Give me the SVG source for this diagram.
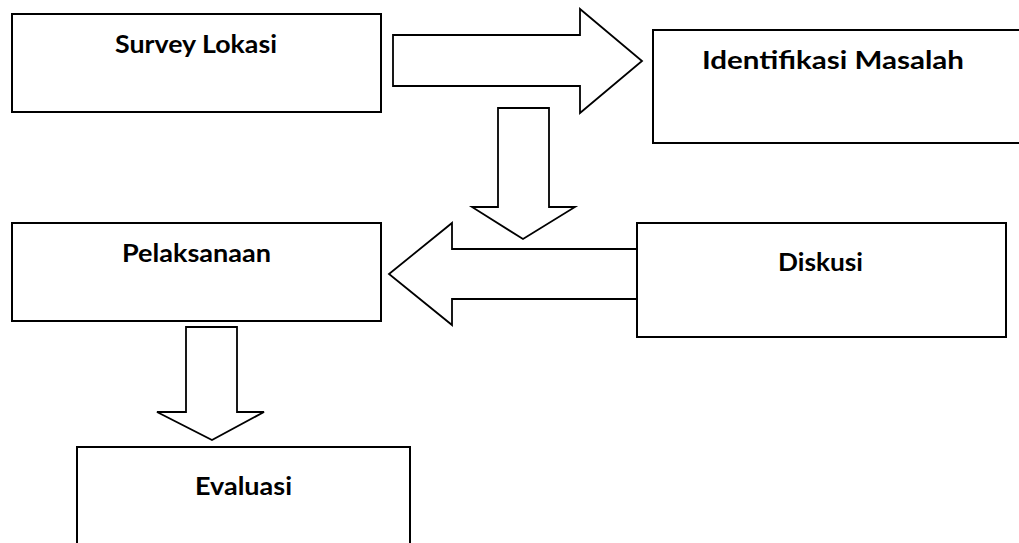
<svg xmlns="http://www.w3.org/2000/svg" width="1019" height="543" viewBox="0 0 1019 543">
<style>
.box{fill:#fff;stroke:#000;stroke-width:2}
.arr{fill:#fff;stroke:#000;stroke-width:1.8;stroke-linejoin:miter}
.lbl{font-family:Lato,"Liberation Sans",sans-serif;font-weight:bold;font-size:24px;fill:#000;text-anchor:middle}
</style>
<rect width="1019" height="543" fill="#fff"/>
<g id="connectors">
<path class="arr" d="M393,35 H580 V9 L642,61 L580,113 V86 H393 Z"/>
<path class="arr" d="M498,108 H549 V207 H575 L523,239 L472,207 H498 Z"/>
<path class="arr" d="M637,249 H452 V223 L389,274 L452,325 V299 H637"/>
<path class="arr" d="M186,327 H237 V412 H264 L212,440 L157,412 H186 Z"/>
</g>
<g id="survey">
<rect class="box" x="12" y="14" width="369" height="98"/>
<text class="lbl" x="196" y="53" textLength="162" lengthAdjust="spacingAndGlyphs">Survey Lokasi</text>
</g>
<g id="identifikasi">
<rect class="box" x="653" y="30" width="380" height="113"/>
<text class="lbl" x="833" y="69" textLength="262" lengthAdjust="spacingAndGlyphs">Identifikasi Masalah</text>
</g>
<g id="diskusi">
<rect class="box" x="637" y="223" width="369" height="114"/>
<text class="lbl" x="820.5" y="271" textLength="85" lengthAdjust="spacingAndGlyphs">Diskusi</text>
</g>
<g id="pelaksanaan">
<rect class="box" x="12" y="223" width="369" height="98"/>
<text class="lbl" x="196.5" y="262" textLength="149" lengthAdjust="spacingAndGlyphs">Pelaksanaan</text>
</g>
<g id="evaluasi">
<rect class="box" x="77" y="447" width="333" height="110"/>
<text class="lbl" x="243.5" y="495" textLength="97" lengthAdjust="spacingAndGlyphs">Evaluasi</text>
</g>
</svg>
